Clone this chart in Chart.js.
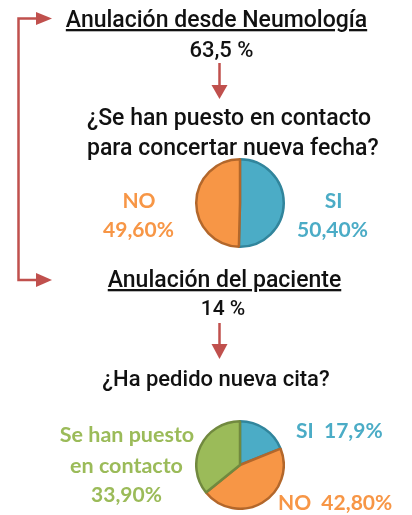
<!DOCTYPE html>
<html><head><meta charset="utf-8">
<script src="https://cdn.jsdelivr.net/npm/chart.js@4/dist/chart.umd.min.js"></script>
<style>
html,body{margin:0;padding:0;background:#fff;width:412px;height:515px;overflow:hidden}
#wrap{position:relative;width:412px;height:515px}
canvas{position:absolute}
#ov{position:absolute;left:0;top:0;pointer-events:none}
.t{font-family:Roboto,sans-serif;font-weight:500;fill:#111}
.l{font-family:Lato,sans-serif;font-weight:700}
</style></head><body>
<div id="wrap">
<canvas id="c1" width="90" height="90" style="left:194.5px;top:158px"></canvas>
<canvas id="c2" width="90" height="90" style="left:195px;top:419.5px"></canvas>
<svg id="ov" width="412" height="515" xmlns="http://www.w3.org/2000/svg">
  <g stroke="#C0504D" stroke-width="2.5" fill="none">
    <polyline points="38,18.5 18.5,18.5 18.5,280 38,280"/>
    <line x1="219.5" y1="63" x2="219.5" y2="86"/>
    <line x1="219.5" y1="323" x2="219.5" y2="344"/>
  </g>
  <g fill="#C0504D">
    <polygon points="36,12 52,18.5 36,25"/>
    <polygon points="36,273 52,280 36,287"/>
    <polygon points="211.5,85 227.5,85 219.5,99"/>
    <polygon points="211.5,344 227.5,344 219.5,359"/>
  </g>
  <g id="texts"></g>
</svg>
</div>
<script>
// ---- data ----
const headers = ["Anulación desde Neumología", "Anulación del paciente"];
const headerValues = ["63,5 %", "14 %"];
const question1Lines = ["¿Se han puesto en contacto", "para concertar nueva fecha?"];
const question2 = "¿Ha pedido nueva cita?";
const q1Labels = ["SI", "NO"];
const q1Values = [50.4, 49.6];
const q1Text = ["50,40%", "49,60%"];
const q2Labels = ["SI", "NO", "Se han puesto en contacto"];
const q2Values = [17.9, 42.8, 33.9];
const q2Text = ["17,9%", "42,80%", "33,90%"];
const fills = ["#4BACC6", "#F79646", "#9BBB59"];
const borders = ["#31859C", "#B3672B", "#71893F"];

// ---- text ----
const NS = "http://www.w3.org/2000/svg";
const g = document.getElementById("texts");
function txt(s, x, y, cls, size, anchor, color, deco){
  const e = document.createElementNS(NS, "text");
  e.setAttribute("x", x); e.setAttribute("y", y);
  e.setAttribute("class", cls);
  e.setAttribute("font-size", size);
  e.setAttribute("text-anchor", anchor || "middle");
  if (color) e.setAttribute("fill", color);
  if (deco) e.setAttribute("text-decoration", deco);
  e.textContent = s;
  g.appendChild(e);
}
txt(headers[0], 216.5, 27, "t", 23, "middle", null, "underline");
txt(headerValues[0], 221.5, 57, "t", 22);
txt(question1Lines[0], 87, 125, "t", 23, "start");
txt(question1Lines[1], 87, 155, "t", 23, "start");
txt(headers[1], 224.5, 287, "t", 23, "middle", null, "underline");
txt(headerValues[1], 223, 315, "t", 21);
txt(question2, 216, 386, "t", 22);

txt(q1Labels[1], 139, 208, "l", 21, "middle", fills[1]);
txt(q1Text[1], 138.5, 237, "l", 21, "middle", fills[1]);
txt(q1Labels[0], 333.5, 208, "l", 21, "middle", fills[0]);
txt(q1Text[0], 332.5, 237, "l", 21, "middle", fills[0]);

txt(q2Labels[0] + "\u00a0\u00a0" + q2Text[0], 296, 438, "l", 21, "start", fills[0]);
txt(q2Labels[1] + "\u00a0\u00a0" + q2Text[1], 278, 510, "l", 21, "start", fills[1]);
txt("Se han puesto", 127, 442, "l", 21.5, "middle", fills[2]);
txt("en contacto", 126.5, 473, "l", 21.5, "middle", fills[2]);
txt(q2Text[2], 126.5, 502, "l", 21, "middle", fills[2]);

// ---- pies ----
function pie(id, labels, values){
  new Chart(document.getElementById(id), {
    type: "pie",
    data: { labels: labels, datasets: [{
      data: values,
      backgroundColor: fills.slice(0, values.length),
      borderColor: borders.slice(0, values.length),
      borderWidth: 2.5
    }]},
    options: {
      responsive: false, animation: false,
      layout: { padding: 0 },
      plugins: { legend: { display: false }, tooltip: { enabled: false } }
    }
  });
}
pie("c1", q1Labels, q1Values);
pie("c2", q2Labels, q2Values);
</script>
</body></html>
